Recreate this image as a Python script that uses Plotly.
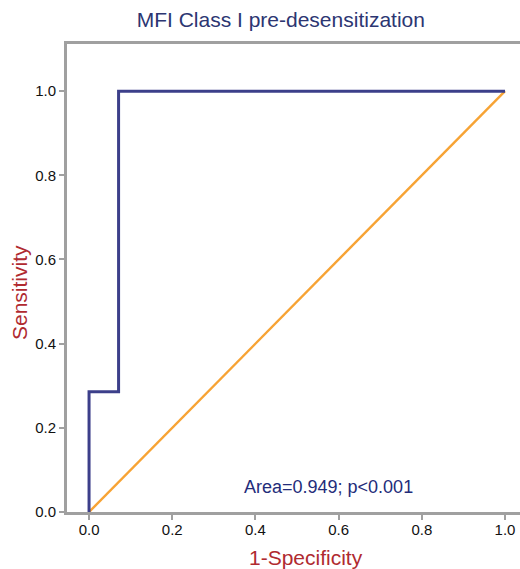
import plotly.graph_objects as go

# ROC curve data
roc_fpr = [0.0, 0.0, 0.071, 0.071, 1.0]
roc_tpr = [0.0, 0.286, 0.286, 1.0, 1.0]
ref_x = [0.0, 1.0]
ref_y = [0.0, 1.0]
tick_vals = [0.0, 0.2, 0.4, 0.6, 0.8, 1.0]
tick_text = ["0.0", "0.2", "0.4", "0.6", "0.8", "1.0"]
title_text = "MFI Class I pre-desensitization"
x_title = "1-Specificity"
y_title = "Sensitivity"
note_text = "Area=0.949; p<0.001"

FONT = "Liberation Sans, Arial, Helvetica"
TITLE_RED = "#b02a30"

fig = go.Figure()
fig.add_trace(go.Scatter(x=ref_x, y=ref_y, mode="lines",
                         line=dict(color="#f7a334", width=2.4), hoverinfo="skip"))
fig.add_trace(go.Scatter(x=roc_fpr, y=roc_tpr, mode="lines",
                         line=dict(color="#3c3f8a", width=3), hoverinfo="skip"))

fig.add_annotation(x=0.576, y=0.06, xref="x", yref="y", text=note_text,
                   showarrow=False, font=dict(size=18, color="#232c7a", family=FONT))

# Axis titles (placed as annotations for exact positioning)
fig.add_annotation(x=0.5276, y=-0.098, xref="paper", yref="paper", text=x_title,
                   showarrow=False, xanchor="center", yanchor="middle",
                   font=dict(size=21, color=TITLE_RED, family=FONT))
fig.add_annotation(x=-0.106, y=0.470, xref="paper", yref="paper", text=y_title,
                   showarrow=False, xanchor="center", yanchor="middle", textangle=-90,
                   font=dict(size=21, color=TITLE_RED, family=FONT))

axis_common = dict(showline=True, linecolor="#a0a0a0", linewidth=3,
                   ticks="outside", ticklen=5, tickwidth=2, tickcolor="#a0a0a0",
                   showgrid=False, zeroline=False, automargin=False,
                   tickvals=tick_vals, ticktext=tick_text,
                   tickfont=dict(size=15, color="#111111", family=FONT))

fig.update_layout(
    width=520, height=569,
    margin=dict(l=67, r=0, t=44, b=57),
    paper_bgcolor="white", plot_bgcolor="white",
    showlegend=False,
    title=dict(text=title_text, x=0.54, xanchor="center", y=0.965, yanchor="middle",
               font=dict(size=21, color="#2c3672", family=FONT)),
    xaxis=dict(range=[-0.053, 1.036], mirror=True, ticklabelstandoff=-3,
               **axis_common),
    yaxis=dict(range=[0.0, 1.112], mirror=False,
               **axis_common),
)

fig.write_html("out.html", config={"displayModeBar": False},
               post_script="document.body.style.margin='0';")
